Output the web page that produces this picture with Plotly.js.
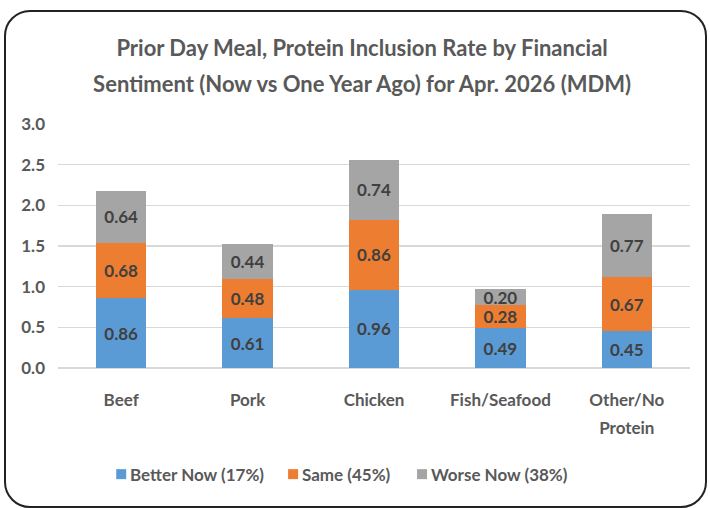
<!DOCTYPE html>
<html><head><meta charset="utf-8">
<script src="https://cdn.plot.ly/plotly-3.0.1.min.js"></script>
<style>
html,body{margin:0;padding:0;background:#fff;}
#frame{position:absolute;left:4px;top:10px;width:703px;height:498px;border:2.5px solid #222;border-radius:26px;box-sizing:border-box;}
#chart{position:absolute;left:0;top:0;width:710px;height:508px;}
</style></head>
<body>
<div id="frame"></div>
<div id="chart"></div>
<script>
const categories = ["Beef", "Pork", "Chicken", "Fish/Seafood", "Other/No<br>Protein"];
const betterNow = [0.86, 0.61, 0.96, 0.49, 0.45];
const same = [0.68, 0.48, 0.86, 0.28, 0.67];
const worseNow = [0.64, 0.44, 0.74, 0.20, 0.77];
const seriesNames = ["Better Now (17%)", "Same (45%)", "Worse Now (38%)"];
const colors = ["#5B9BD5", "#ED7D31", "#A5A5A5"];
const yTicks = [0, 0.5, 1, 1.5, 2, 2.5, 3];

const FONT = "Lato, 'Open Sans', sans-serif";
const TXT = "#595959";
const vals = [betterNow, same, worseNow];
const traces = vals.map((v, i) => ({
  type: "bar",
  x: categories,
  y: v,
  name: seriesNames[i],
  marker: {color: colors[i]},
  text: v.map(n => n.toFixed(2)),
  textposition: "inside",
  insidetextanchor: "middle",
  textangle: 0,
  constraintext: "none",
  cliponaxis: false,
  textfont: {family: FONT, size: 17, color: "#404040", weight: 700},
  hoverinfo: "none",
  showlegend: false
}));

// legend built from series names/colours (positions are layout only)
const legendX = [0.1, 0.372, 0.576]; // paper x of each square centre
const legendY = -0.435;
const shapes = seriesNames.map((n, i) => ({
  type: "rect", xref: "paper", yref: "paper",
  xsizemode: "pixel", ysizemode: "pixel",
  xanchor: legendX[i], yanchor: legendY,
  x0: -5, x1: 5, y0: -5, y1: 5,
  fillcolor: colors[i], line: {width: 0}
}));
const annotations = seriesNames.map((n, i) => ({
  xref: "paper", yref: "paper", x: legendX[i], y: legendY,
  xanchor: "left", yanchor: "middle", xshift: 7,
  text: n, showarrow: false,
  font: {family: FONT, size: 17, color: TXT, weight: 700}
}));

const layout = {
  width: 710, height: 508,
  paper_bgcolor: "rgba(0,0,0,0)",
  plot_bgcolor: "rgba(0,0,0,0)",
  barmode: "stack",
  bargap: 0.6,
  margin: {l: 58, r: 20, t: 124, b: 140},
  font: {family: FONT, color: TXT, size: 16},
  title: {
    text: "Prior Day Meal, Protein Inclusion Rate by Financial<br>Sentiment (Now vs One Year Ago) for Apr. 2026 (MDM)",
    font: {family: FONT, size: 22, color: TXT, weight: 700},
    x: 0.51, xanchor: "center", y: 0.882, yanchor: "middle"
  },
  xaxis: {
    type: "category",
    showgrid: false, zeroline: false, showline: false,
    ticks: "", tickfont: {family: FONT, size: 17, color: TXT, weight: 700},
    ticklabelstandoff: 20
  },
  yaxis: {
    range: [0, 3], tickvals: yTicks, ticktext: yTicks.map(t => t.toFixed(1)),
    showgrid: true, gridcolor: "#D9D9D9", gridwidth: 1.5,
    zeroline: true, zerolinecolor: "#D9D9D9", zerolinewidth: 1.5,
    showline: false, ticks: "",
    tickfont: {family: FONT, size: 17, color: TXT, weight: 700},
    ticklabelstandoff: 12
  },
  shapes: shapes,
  annotations: annotations,
  showlegend: false
};
Plotly.newPlot("chart", traces, layout, {displayModeBar: false, staticPlot: true}).then(gd => {
  // widen multi-line spacing to match the reference's line height
  const t = gd.querySelector(".gtitle");
  if (t) {
    const lines = t.querySelectorAll("tspan.line");
    if (lines.length > 1) {
      lines[1].setAttribute("dy", (36 / 22) + "em");
      const y = parseFloat(t.getAttribute("y"));
      t.setAttribute("y", y - 3.7);
      lines.forEach(l => { if (l.getAttribute("y")) l.setAttribute("y", parseFloat(l.getAttribute("y")) - 3.7); });
    }
  }
  gd.querySelectorAll(".xtick text").forEach(tx => {
    const ls = tx.querySelectorAll("tspan.line");
    if (ls.length > 1) ls[1].setAttribute("dy", (28 / 17) + "em");
  });
});
</script>
</body></html>
